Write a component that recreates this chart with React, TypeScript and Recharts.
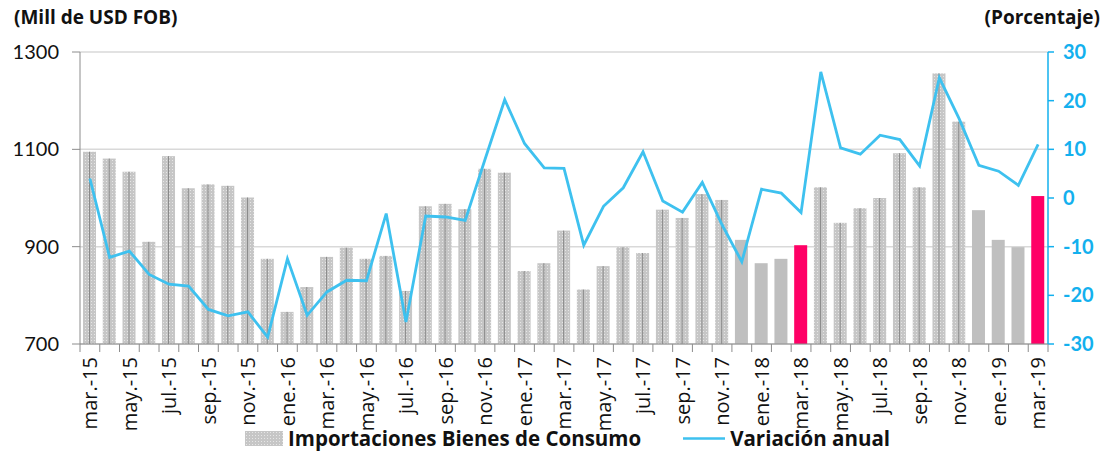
import React from 'react';
import { ComposedChart, Bar, Line, XAxis, YAxis, CartesianGrid, Cell } from 'recharts';

// Meses (mar-15 a mar-19)
const months = [
  'mar.-15', 'abr.-15', 'may.-15', 'jun.-15', 'jul.-15', 'ago.-15', 'sep.-15', 'oct.-15', 'nov.-15', 'dic.-15',
  'ene.-16', 'feb.-16', 'mar.-16', 'abr.-16', 'may.-16', 'jun.-16', 'jul.-16', 'ago.-16', 'sep.-16', 'oct.-16', 'nov.-16', 'dic.-16',
  'ene.-17', 'feb.-17', 'mar.-17', 'abr.-17', 'may.-17', 'jun.-17', 'jul.-17', 'ago.-17', 'sep.-17', 'oct.-17', 'nov.-17', 'dic.-17',
  'ene.-18', 'feb.-18', 'mar.-18', 'abr.-18', 'may.-18', 'jun.-18', 'jul.-18', 'ago.-18', 'sep.-18', 'oct.-18', 'nov.-18', 'dic.-18',
  'ene.-19', 'feb.-19', 'mar.-19',
];

// Importaciones de bienes de consumo (Mill de USD FOB)
const imports = [
  1095, 1081, 1054, 910, 1086, 1020, 1028, 1025, 1001, 875,
  766, 817, 879, 898, 875, 881, 809, 983, 988, 977, 1060, 1052,
  850, 866, 933, 812, 860, 899, 887, 976, 959, 1008, 996, 914,
  866, 875, 903, 1022, 949, 979, 1000, 1092, 1022, 1256, 1157, 975,
  914, 899, 1004,
];

// Variación anual (%)
const yoy = [
  4.0, -12.2, -10.9, -15.7, -17.7, -18.1, -22.9, -24.2, -23.4, -28.6,
  -12.5, -24.1, -19.3, -16.9, -17.0, -3.2, -25.5, -3.7, -3.9, -4.6, 7.9, 20.2,
  11.2, 6.2, 6.1, -9.7, -1.7, 2.1, 9.5, -0.6, -2.9, 3.2, -5.5, -13.1,
  1.8, 1.0, -3.0, 25.9, 10.3, 9.0, 12.9, 12.0, 6.6, 24.7, 16.3, 6.7,
  5.5, 2.6, 11.0,
];

const solidMonths = ['dic.-17', 'ene.-18', 'feb.-18', 'dic.-18', 'ene.-19', 'feb.-19'];
const markedMonths = ['mar.-18', 'mar.-19'];

const leftTicks = [700, 900, 1100, 1300];
const rightTicks = [-30, -20, -10, 0, 10, 20, 30];

const data = months.map((m, i) => ({ month: m, imports: imports[i], yoy: yoy[i] }));

const FONT = '"Open Sans", Lato, sans-serif';
const NUM_FONT = 'Lato, "Open Sans", sans-serif';
const LINE_COLOR = '#3ec1ef';
const AXIS_BLUE = '#13b0ee';

const fillFor = (m: string) =>
  markedMonths.includes(m) ? '#ff0066' : solidMonths.includes(m) ? '#bfbfbf' : 'url(#dots)';

const BarShape = (props: any) => {
  const { x, y, width, height, payload } = props;
  const m = payload.month;
  const patterned = !markedMonths.includes(m) && !solidMonths.includes(m);
  return (
    <g>
      <rect x={x} y={y} width={width} height={height} fill={fillFor(m)} />
      {patterned && (
        <line x1={x + width / 2} x2={x + width / 2} y1={y} y2={y + height} stroke="#8a8a8a" strokeWidth={1} />
      )}
    </g>
  );
};

const MonthTick = (props: any) => {
  const { x, y, payload, index } = props;
  const half = payload.offset ?? 9.9;
  return (
    <g>
      <line x1={x - half} x2={x - half} y1={y - 8} y2={y} stroke="#8c8c8c" strokeWidth={1} />
      {index === months.length - 1 && (
        <line x1={x + half} x2={x + half} y1={y - 8} y2={y} stroke="#8c8c8c" strokeWidth={1} />
      )}
      {index % 2 === 0 && (
        <text
          x={x}
          y={y + 5}
          transform={`rotate(-90, ${x}, ${y + 5})`}
          textAnchor="end"
          dy="0.36em"
          fontSize={20}
          fontFamily={FONT}
          fill="#111"
        >
          {payload.value}
        </text>
      )}
    </g>
  );
};

const Swatch = () => (
  <svg width={38} height={15} style={{ verticalAlign: 'middle' }}>
    <defs>
      <pattern id="dotsLegend" width={3} height={3} patternUnits="userSpaceOnUse">
        <rect width={3} height={3} fill="#c6c6c6" />
        <rect x={1} y={1} width={1} height={1} fill="#e6e6e6" />
      </pattern>
    </defs>
    <rect width={38} height={15} fill="url(#dotsLegend)" />
  </svg>
);

export default function App() {
  return (
    <div style={{ position: 'absolute', left: 0, top: 0, width: 1110, height: 458, background: '#fff', fontFamily: FONT }}>
      <ComposedChart
        width={1110}
        height={458}
        data={data}
        margin={{ top: 52, right: 0, left: 0, bottom: 34 }}
        barSize={13}
      >
        <defs>
          <pattern id="dots" width={3} height={3} patternUnits="userSpaceOnUse">
            <rect width={3} height={3} fill="#c6c6c6" />
            <rect x={1} y={1} width={1} height={1} fill="#e6e6e6" />
          </pattern>
        </defs>
        <CartesianGrid yAxisId="left" vertical={false} stroke="#d9d9d9" strokeWidth={1.5} />
        <XAxis
          dataKey="month"
          xAxisId="x"
          interval={0}
          height={80}
          tickLine={false}
          axisLine={{ stroke: '#8c8c8c', strokeWidth: 1 }}
          tick={<MonthTick />}
        />
        <YAxis
          yAxisId="left"
          domain={[700, 1300]}
          ticks={leftTicks}
          width={80}
          axisLine={{ stroke: '#8c8c8c' }}
          tickLine={{ stroke: '#8c8c8c' }}
          tickSize={8}
          tick={{ fontSize: 20, fill: '#111', fontFamily: NUM_FONT }}
          tickMargin={13}
        />
        <YAxis
          yAxisId="right"
          orientation="right"
          domain={[-30, 30]}
          ticks={rightTicks}
          width={62}
          axisLine={{ stroke: AXIS_BLUE, strokeWidth: 1.5 }}
          tickLine={{ stroke: AXIS_BLUE, strokeWidth: 1.5 }}
          tickSize={6}
          tick={{ fontSize: 20, fill: AXIS_BLUE, fontWeight: 700, fontFamily: NUM_FONT }}
          tickMargin={9}
        />
        <Bar xAxisId="x" yAxisId="left" dataKey="imports" isAnimationActive={false} shape={<BarShape />}>
          {data.map((d, i) => (
            <Cell key={`c-${i}`} fill={fillFor(d.month)} />
          ))}
        </Bar>
        <Line
          xAxisId="x"
          yAxisId="right"
          dataKey="yoy"
          type="linear"
          stroke={LINE_COLOR}
          strokeWidth={2.8}
          dot={false}
          isAnimationActive={false}
        />
      </ComposedChart>

      <div style={{ position: 'absolute', left: 14, top: 4, fontSize: 19, fontWeight: 700, color: '#111' }}>
        (Mill de USD FOB)
      </div>
      <div style={{ position: 'absolute', right: 10, top: 4, fontSize: 19, fontWeight: 700, color: '#111' }}>
        (Porcentaje)
      </div>

      <div style={{ position: 'absolute', left: 245, top: 424, display: 'flex', alignItems: 'center', fontSize: 20.5, fontWeight: 700, color: '#111' }}>
        <Swatch />
        <span style={{ marginLeft: 5 }}>Importaciones Bienes de Consumo</span>
        <svg width={42} height={15} style={{ marginLeft: 42 }}>
          <line x1={0} x2={42} y1={7.5} y2={7.5} stroke={LINE_COLOR} strokeWidth={2.6} />
        </svg>
        <span style={{ marginLeft: 5 }}>Variación anual</span>
      </div>
    </div>
  );
}
